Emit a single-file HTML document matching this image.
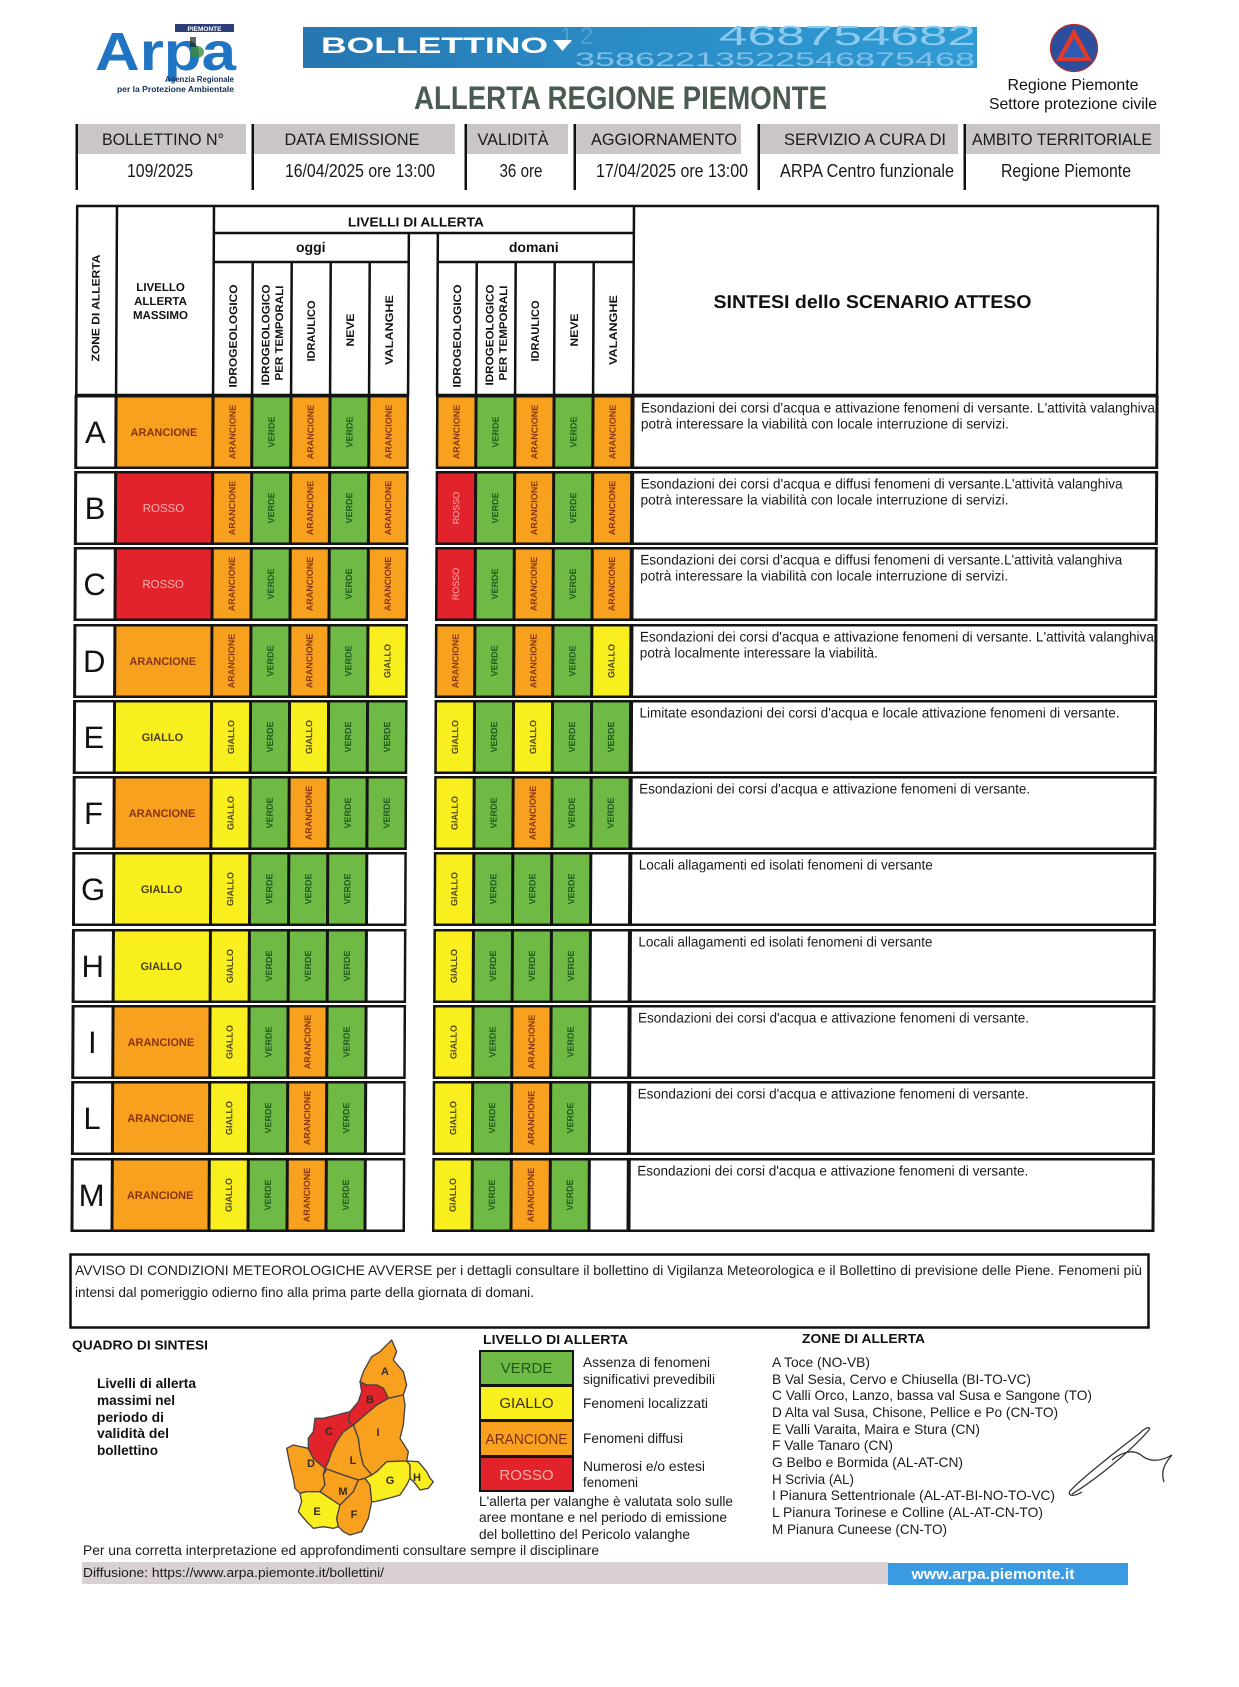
<!DOCTYPE html>
<html><head><meta charset="utf-8">
<style>
html,body{margin:0;padding:0;background:#fff;}
svg{display:block;}
text{font-family:"Liberation Sans",Arial,sans-serif;}
.hl{font-size:17px;fill:#1a1a1a;text-anchor:middle;}
.hv{font-size:18px;fill:#1a1a1a;text-anchor:middle;}
.hb{font-weight:bold;fill:#111;}
.z{font-size:31px;fill:#111;text-anchor:middle;}
.lo{font-weight:bold;font-size:11px;fill:#8a3414;text-anchor:middle;}
.ly{font-weight:bold;font-size:11px;fill:#4a4214;text-anchor:middle;}
.lr{font-size:11.5px;fill:#f7b0ae;text-anchor:middle;}
.v{font-weight:bold;font-size:9px;text-anchor:middle;}
.vo{fill:#8a3414;}.vg{fill:#1e5a1e;}.vy{fill:#4f4812;}
.vr{font-weight:normal;fill:#f7b0ae;}
.s{font-size:14px;fill:#1b1b1b;}
.b13{font-weight:bold;font-size:13px;fill:#111;}
.t14{font-size:14px;fill:#1b1b1b;}
</style></head>
<body>
<svg width="1239" height="1687" viewBox="0 0 1239 1687" xmlns="http://www.w3.org/2000/svg">
<defs>
<linearGradient id="bg" x1="0" x2="1" y1="0" y2="0">
<stop offset="0" stop-color="#2676b0"/><stop offset="0.45" stop-color="#2a8bc5"/><stop offset="1" stop-color="#309bd4"/>
</linearGradient>
</defs>

<!-- ARPA logo -->
<rect x="175" y="24" width="59" height="8" fill="#2c3f78"/>
<text x="204.5" y="31" font-size="6.5" font-weight="bold" fill="#fff" text-anchor="middle">PIEMONTE</text>
<text x="95" y="70" font-size="54" font-weight="bold" fill="#1f74c4" textLength="141" lengthAdjust="spacingAndGlyphs">Arpa</text>
<ellipse cx="197" cy="52" rx="7" ry="6" fill="#3d8b3a" opacity="0.8"/>
<rect x="190" y="37" width="6" height="10" fill="#1a2a1a" opacity="0.7"/>
<text x="234" y="82" font-size="8" font-weight="bold" fill="#14305a" text-anchor="end" textLength="69" lengthAdjust="spacingAndGlyphs">Agenzia Regionale</text>
<text x="234" y="92" font-size="8" font-weight="bold" fill="#14305a" text-anchor="end" textLength="117" lengthAdjust="spacingAndGlyphs">per la Protezione Ambientale</text>

<!-- Banner -->
<rect x="303" y="27" width="674" height="41" fill="url(#bg)"/>
<text x="560" y="44" font-size="24" fill="#5aa6d8" opacity="0.8">1  2</text>
<text x="719" y="45" font-size="28" fill="#8ccbee" textLength="257" lengthAdjust="spacingAndGlyphs">468754682</text>
<text x="575" y="66" font-size="19" fill="#7fc0e8" textLength="400" lengthAdjust="spacingAndGlyphs">35862213522546875468</text>
<text x="321" y="53" font-size="22" font-weight="bold" fill="#fff" textLength="227" lengthAdjust="spacingAndGlyphs">BOLLETTINO</text>
<polygon points="553,40 572,40 562.5,51" fill="#fff"/>

<text x="414" y="109" font-size="32" font-weight="bold" fill="#4b5b50" textLength="413" lengthAdjust="spacingAndGlyphs">ALLERTA REGIONE PIEMONTE</text>

<!-- Protezione civile logo -->
<circle cx="1074" cy="48" r="23.5" fill="#2b4f9e" stroke="#b5302a" stroke-width="1.2"/>
<polygon points="1074,28 1056,61 1092,61" fill="#e0392a"/>
<polygon points="1074,38 1063,57 1085,57" fill="#2c5bb5"/>
<text x="1073" y="90" font-size="16" fill="#111" text-anchor="middle" textLength="131" lengthAdjust="spacingAndGlyphs">Regione Piemonte</text>
<text x="1073" y="109" font-size="16" fill="#111" text-anchor="middle" textLength="168" lengthAdjust="spacingAndGlyphs">Settore protezione civile</text>

<!-- Header info table -->
<g fill="#cac5c7">
<rect x="78" y="124" width="168" height="30"/>
<rect x="254" y="124" width="201" height="30"/>
<rect x="467" y="124" width="101" height="30"/>
<rect x="576" y="124" width="165" height="30"/>
<rect x="760" y="124" width="198" height="30"/>
<rect x="966" y="124" width="194" height="30"/>
</g>
<g fill="#111">
<rect x="75.5" y="124" width="2.5" height="66"/>
<rect x="251.5" y="124" width="2.5" height="66"/>
<rect x="464.5" y="124" width="2.5" height="66"/>
<rect x="573.5" y="124" width="2.5" height="66"/>
<rect x="757.5" y="124" width="2.5" height="66"/>
<rect x="963.5" y="124" width="2.5" height="66"/>
</g>
<text class="hl" x="163" y="145" textLength="122" lengthAdjust="spacingAndGlyphs">BOLLETTINO N°</text>
<text class="hl" x="352" y="145" textLength="135" lengthAdjust="spacingAndGlyphs">DATA EMISSIONE</text>
<text class="hl" x="513" y="145" textLength="71" lengthAdjust="spacingAndGlyphs">VALIDITÀ</text>
<text class="hl" x="664" y="145" textLength="146" lengthAdjust="spacingAndGlyphs">AGGIORNAMENTO</text>
<text class="hl" x="865" y="145" textLength="162" lengthAdjust="spacingAndGlyphs">SERVIZIO A CURA DI</text>
<text class="hl" x="1062" y="145" textLength="180" lengthAdjust="spacingAndGlyphs">AMBITO TERRITORIALE</text>
<text class="hv" x="160" y="177" textLength="66" lengthAdjust="spacingAndGlyphs">109/2025</text>
<text class="hv" x="360" y="177" textLength="150" lengthAdjust="spacingAndGlyphs">16/04/2025 ore 13:00</text>
<text class="hv" x="521" y="177" textLength="43" lengthAdjust="spacingAndGlyphs">36 ore</text>
<text class="hv" x="672" y="177" textLength="152" lengthAdjust="spacingAndGlyphs">17/04/2025 ore 13:00</text>
<text class="hv" x="867" y="177" textLength="174" lengthAdjust="spacingAndGlyphs">ARPA Centro funzionale</text>
<text class="hv" x="1066" y="177" textLength="130" lengthAdjust="spacingAndGlyphs">Regione Piemonte</text>

<!-- MAIN TABLE -->
<g transform="translate(1,0) skewX(-0.28)">
<path d="M76 206 H1159 M77.2 206 V396 M117 206 V396 M214 206 V396 M214 233 H634 M409 233 V396 M438 233 V396 M214 262 H409 M438 262 H634 M253 262 V396 M292 262 V396 M331 262 V396 M370 262 V396 M477 262 V396 M516 262 V396 M555 262 V396 M594 262 V396 M634 206 V396 M1158 206 V396 M76 395 H409 M438 395 H1159" stroke="#111" stroke-width="2.5" fill="none"/>
<text class="hb" font-size="11" text-anchor="middle" transform="translate(96,308) rotate(-90)" dy="4" textLength="107" lengthAdjust="spacingAndGlyphs">ZONE DI ALLERTA</text>
<text class="hb" font-size="11.5" text-anchor="middle" x="161" y="291">LIVELLO</text>
<text class="hb" font-size="11.5" text-anchor="middle" x="161" y="305">ALLERTA</text>
<text class="hb" font-size="11.5" text-anchor="middle" x="161" y="319">MASSIMO</text>
<text class="hb" font-size="13" text-anchor="middle" x="416" y="226.5" textLength="136" lengthAdjust="spacingAndGlyphs">LIVELLI DI ALLERTA</text>
<text class="hb" font-size="14" text-anchor="middle" x="311" y="252">oggi</text>
<text class="hb" font-size="14" text-anchor="middle" x="534" y="252">domani</text>
<g class="hb" font-size="11" text-anchor="middle">
<text transform="translate(233.5,336) rotate(-90)" dy="4" textLength="103" lengthAdjust="spacingAndGlyphs">IDROGEOLOGICO</text>
<text transform="translate(266,335) rotate(-90)" dy="4" textLength="101" lengthAdjust="spacingAndGlyphs">IDROGEOLOGICO</text>
<text transform="translate(279.5,333) rotate(-90)" dy="4" textLength="95" lengthAdjust="spacingAndGlyphs">PER TEMPORALI</text>
<text transform="translate(311.5,331) rotate(-90)" dy="4" textLength="61" lengthAdjust="spacingAndGlyphs">IDRAULICO</text>
<text transform="translate(350.5,330) rotate(-90)" dy="4" textLength="33" lengthAdjust="spacingAndGlyphs">NEVE</text>
<text transform="translate(389.5,330) rotate(-90)" dy="4" textLength="70" lengthAdjust="spacingAndGlyphs">VALANGHE</text>
<text transform="translate(457.5,336) rotate(-90)" dy="4" textLength="103" lengthAdjust="spacingAndGlyphs">IDROGEOLOGICO</text>
<text transform="translate(490,335) rotate(-90)" dy="4" textLength="101" lengthAdjust="spacingAndGlyphs">IDROGEOLOGICO</text>
<text transform="translate(503.5,333) rotate(-90)" dy="4" textLength="95" lengthAdjust="spacingAndGlyphs">PER TEMPORALI</text>
<text transform="translate(535.5,331) rotate(-90)" dy="4" textLength="61" lengthAdjust="spacingAndGlyphs">IDRAULICO</text>
<text transform="translate(574.5,330) rotate(-90)" dy="4" textLength="33" lengthAdjust="spacingAndGlyphs">NEVE</text>
<text transform="translate(613.5,330) rotate(-90)" dy="4" textLength="70" lengthAdjust="spacingAndGlyphs">VALANGHE</text>
</g>
<text class="hb" font-size="18.5" x="714" y="308" textLength="318" lengthAdjust="spacingAndGlyphs">SINTESI dello SCENARIO ATTESO</text>

<!-- Row A -->
<g transform="translate(0,395)">
<rect x="75.5" y="0" width="334.5" height="74" fill="#141414"/><rect x="437" y="0" width="722.5" height="74" fill="#141414"/>
<rect x="78.5" y="2.5" width="37" height="69" fill="#fff"/><text class="z" x="96.5" y="48">A</text>
<rect x="118.5" y="2.5" width="94" height="69" fill="#f7a11f"/><text class="lo" x="165" y="41">ARANCIONE</text>
<rect x="215.5" y="2.5" width="36" height="69" fill="#f7a11f"/><text class="v vo" transform="translate(233.5,37) rotate(-90)" dy="3.2">ARANCIONE</text>
<rect x="254.5" y="2.5" width="36" height="69" fill="#6eba45"/><text class="v vg" transform="translate(272.5,37) rotate(-90)" dy="3.2">VERDE</text>
<rect x="293.5" y="2.5" width="36" height="69" fill="#f7a11f"/><text class="v vo" transform="translate(311.5,37) rotate(-90)" dy="3.2">ARANCIONE</text>
<rect x="332.5" y="2.5" width="36" height="69" fill="#6eba45"/><text class="v vg" transform="translate(350.5,37) rotate(-90)" dy="3.2">VERDE</text>
<rect x="371.5" y="2.5" width="36" height="69" fill="#f7a11f"/><text class="v vo" transform="translate(389.5,37) rotate(-90)" dy="3.2">ARANCIONE</text>
<rect x="439.5" y="2.5" width="36" height="69" fill="#f7a11f"/><text class="v vo" transform="translate(457.5,37) rotate(-90)" dy="3.2">ARANCIONE</text>
<rect x="478.5" y="2.5" width="36" height="69" fill="#6eba45"/><text class="v vg" transform="translate(496.5,37) rotate(-90)" dy="3.2">VERDE</text>
<rect x="517.5" y="2.5" width="36" height="69" fill="#f7a11f"/><text class="v vo" transform="translate(535.5,37) rotate(-90)" dy="3.2">ARANCIONE</text>
<rect x="556.5" y="2.5" width="36" height="69" fill="#6eba45"/><text class="v vg" transform="translate(574.5,37) rotate(-90)" dy="3.2">VERDE</text>
<rect x="595.5" y="2.5" width="36" height="69" fill="#f7a11f"/><text class="v vo" transform="translate(613.5,37) rotate(-90)" dy="3.2">ARANCIONE</text>
<rect x="635.5" y="2.5" width="521" height="69" fill="#fff"/>
<text class="s" x="642" y="17.5" textLength="514" lengthAdjust="spacingAndGlyphs">Esondazioni dei corsi d'acqua e attivazione fenomeni di versante. L'attività valanghiva</text>
<text class="s" x="642" y="33.5" textLength="368" lengthAdjust="spacingAndGlyphs">potrà interessare la viabilità con locale interruzione di servizi.</text>
</g>

<!-- Row B -->
<g transform="translate(0,471)">
<rect x="75.5" y="0" width="334.5" height="74" fill="#141414"/><rect x="437" y="0" width="722.5" height="74" fill="#141414"/>
<rect x="78.5" y="2.5" width="37" height="69" fill="#fff"/><text class="z" x="96.5" y="48">B</text>
<rect x="118.5" y="2.5" width="94" height="69" fill="#e3232b"/><text class="lr" x="165" y="41">ROSSO</text>
<rect x="215.5" y="2.5" width="36" height="69" fill="#f7a11f"/><text class="v vo" transform="translate(233.5,37) rotate(-90)" dy="3.2">ARANCIONE</text>
<rect x="254.5" y="2.5" width="36" height="69" fill="#6eba45"/><text class="v vg" transform="translate(272.5,37) rotate(-90)" dy="3.2">VERDE</text>
<rect x="293.5" y="2.5" width="36" height="69" fill="#f7a11f"/><text class="v vo" transform="translate(311.5,37) rotate(-90)" dy="3.2">ARANCIONE</text>
<rect x="332.5" y="2.5" width="36" height="69" fill="#6eba45"/><text class="v vg" transform="translate(350.5,37) rotate(-90)" dy="3.2">VERDE</text>
<rect x="371.5" y="2.5" width="36" height="69" fill="#f7a11f"/><text class="v vo" transform="translate(389.5,37) rotate(-90)" dy="3.2">ARANCIONE</text>
<rect x="439.5" y="2.5" width="36" height="69" fill="#e3232b"/><text class="v vr" transform="translate(457.5,37) rotate(-90)" dy="3.2">ROSSO</text>
<rect x="478.5" y="2.5" width="36" height="69" fill="#6eba45"/><text class="v vg" transform="translate(496.5,37) rotate(-90)" dy="3.2">VERDE</text>
<rect x="517.5" y="2.5" width="36" height="69" fill="#f7a11f"/><text class="v vo" transform="translate(535.5,37) rotate(-90)" dy="3.2">ARANCIONE</text>
<rect x="556.5" y="2.5" width="36" height="69" fill="#6eba45"/><text class="v vg" transform="translate(574.5,37) rotate(-90)" dy="3.2">VERDE</text>
<rect x="595.5" y="2.5" width="36" height="69" fill="#f7a11f"/><text class="v vo" transform="translate(613.5,37) rotate(-90)" dy="3.2">ARANCIONE</text>
<rect x="635.5" y="2.5" width="521" height="69" fill="#fff"/>
<text class="s" x="642" y="17.5" textLength="482" lengthAdjust="spacingAndGlyphs">Esondazioni dei corsi d'acqua e diffusi fenomeni di versante.L'attività valanghiva</text>
<text class="s" x="642" y="33.5" textLength="368" lengthAdjust="spacingAndGlyphs">potrà interessare la viabilità con locale interruzione di servizi.</text>
</g>

<!-- Row C -->
<g transform="translate(0,547)">
<rect x="75.5" y="0" width="334.5" height="74" fill="#141414"/><rect x="437" y="0" width="722.5" height="74" fill="#141414"/>
<rect x="78.5" y="2.5" width="37" height="69" fill="#fff"/><text class="z" x="96.5" y="48">C</text>
<rect x="118.5" y="2.5" width="94" height="69" fill="#e3232b"/><text class="lr" x="165" y="41">ROSSO</text>
<rect x="215.5" y="2.5" width="36" height="69" fill="#f7a11f"/><text class="v vo" transform="translate(233.5,37) rotate(-90)" dy="3.2">ARANCIONE</text>
<rect x="254.5" y="2.5" width="36" height="69" fill="#6eba45"/><text class="v vg" transform="translate(272.5,37) rotate(-90)" dy="3.2">VERDE</text>
<rect x="293.5" y="2.5" width="36" height="69" fill="#f7a11f"/><text class="v vo" transform="translate(311.5,37) rotate(-90)" dy="3.2">ARANCIONE</text>
<rect x="332.5" y="2.5" width="36" height="69" fill="#6eba45"/><text class="v vg" transform="translate(350.5,37) rotate(-90)" dy="3.2">VERDE</text>
<rect x="371.5" y="2.5" width="36" height="69" fill="#f7a11f"/><text class="v vo" transform="translate(389.5,37) rotate(-90)" dy="3.2">ARANCIONE</text>
<rect x="439.5" y="2.5" width="36" height="69" fill="#e3232b"/><text class="v vr" transform="translate(457.5,37) rotate(-90)" dy="3.2">ROSSO</text>
<rect x="478.5" y="2.5" width="36" height="69" fill="#6eba45"/><text class="v vg" transform="translate(496.5,37) rotate(-90)" dy="3.2">VERDE</text>
<rect x="517.5" y="2.5" width="36" height="69" fill="#f7a11f"/><text class="v vo" transform="translate(535.5,37) rotate(-90)" dy="3.2">ARANCIONE</text>
<rect x="556.5" y="2.5" width="36" height="69" fill="#6eba45"/><text class="v vg" transform="translate(574.5,37) rotate(-90)" dy="3.2">VERDE</text>
<rect x="595.5" y="2.5" width="36" height="69" fill="#f7a11f"/><text class="v vo" transform="translate(613.5,37) rotate(-90)" dy="3.2">ARANCIONE</text>
<rect x="635.5" y="2.5" width="521" height="69" fill="#fff"/>
<text class="s" x="642" y="17.5" textLength="482" lengthAdjust="spacingAndGlyphs">Esondazioni dei corsi d'acqua e diffusi fenomeni di versante.L'attività valanghiva</text>
<text class="s" x="642" y="33.5" textLength="368" lengthAdjust="spacingAndGlyphs">potrà interessare la viabilità con locale interruzione di servizi.</text>
</g>

<!-- Row D -->
<g transform="translate(0,624)">
<rect x="75.5" y="0" width="334.5" height="74" fill="#141414"/><rect x="437" y="0" width="722.5" height="74" fill="#141414"/>
<rect x="78.5" y="2.5" width="37" height="69" fill="#fff"/><text class="z" x="96.5" y="48">D</text>
<rect x="118.5" y="2.5" width="94" height="69" fill="#f7a11f"/><text class="lo" x="165" y="41">ARANCIONE</text>
<rect x="215.5" y="2.5" width="36" height="69" fill="#f7a11f"/><text class="v vo" transform="translate(233.5,37) rotate(-90)" dy="3.2">ARANCIONE</text>
<rect x="254.5" y="2.5" width="36" height="69" fill="#6eba45"/><text class="v vg" transform="translate(272.5,37) rotate(-90)" dy="3.2">VERDE</text>
<rect x="293.5" y="2.5" width="36" height="69" fill="#f7a11f"/><text class="v vo" transform="translate(311.5,37) rotate(-90)" dy="3.2">ARANCIONE</text>
<rect x="332.5" y="2.5" width="36" height="69" fill="#6eba45"/><text class="v vg" transform="translate(350.5,37) rotate(-90)" dy="3.2">VERDE</text>
<rect x="371.5" y="2.5" width="36" height="69" fill="#f9ef1f"/><text class="v vy" transform="translate(389.5,37) rotate(-90)" dy="3.2">GIALLO</text>
<rect x="439.5" y="2.5" width="36" height="69" fill="#f7a11f"/><text class="v vo" transform="translate(457.5,37) rotate(-90)" dy="3.2">ARANCIONE</text>
<rect x="478.5" y="2.5" width="36" height="69" fill="#6eba45"/><text class="v vg" transform="translate(496.5,37) rotate(-90)" dy="3.2">VERDE</text>
<rect x="517.5" y="2.5" width="36" height="69" fill="#f7a11f"/><text class="v vo" transform="translate(535.5,37) rotate(-90)" dy="3.2">ARANCIONE</text>
<rect x="556.5" y="2.5" width="36" height="69" fill="#6eba45"/><text class="v vg" transform="translate(574.5,37) rotate(-90)" dy="3.2">VERDE</text>
<rect x="595.5" y="2.5" width="36" height="69" fill="#f9ef1f"/><text class="v vy" transform="translate(613.5,37) rotate(-90)" dy="3.2">GIALLO</text>
<rect x="635.5" y="2.5" width="521" height="69" fill="#fff"/>
<text class="s" x="642" y="17.5" textLength="514" lengthAdjust="spacingAndGlyphs">Esondazioni dei corsi d'acqua e attivazione fenomeni di versante. L'attività valanghiva</text>
<text class="s" x="642" y="33.5" textLength="238" lengthAdjust="spacingAndGlyphs">potrà localmente interessare la viabilità.</text>
</g>

<!-- Row E -->
<g transform="translate(0,700)">
<rect x="75.5" y="0" width="334.5" height="74" fill="#141414"/><rect x="437" y="0" width="722.5" height="74" fill="#141414"/>
<rect x="78.5" y="2.5" width="37" height="69" fill="#fff"/><text class="z" x="96.5" y="48">E</text>
<rect x="118.5" y="2.5" width="94" height="69" fill="#f9ef1f"/><text class="ly" x="165" y="41">GIALLO</text>
<rect x="215.5" y="2.5" width="36" height="69" fill="#f9ef1f"/><text class="v vy" transform="translate(233.5,37) rotate(-90)" dy="3.2">GIALLO</text>
<rect x="254.5" y="2.5" width="36" height="69" fill="#6eba45"/><text class="v vg" transform="translate(272.5,37) rotate(-90)" dy="3.2">VERDE</text>
<rect x="293.5" y="2.5" width="36" height="69" fill="#f9ef1f"/><text class="v vy" transform="translate(311.5,37) rotate(-90)" dy="3.2">GIALLO</text>
<rect x="332.5" y="2.5" width="36" height="69" fill="#6eba45"/><text class="v vg" transform="translate(350.5,37) rotate(-90)" dy="3.2">VERDE</text>
<rect x="371.5" y="2.5" width="36" height="69" fill="#6eba45"/><text class="v vg" transform="translate(389.5,37) rotate(-90)" dy="3.2">VERDE</text>
<rect x="439.5" y="2.5" width="36" height="69" fill="#f9ef1f"/><text class="v vy" transform="translate(457.5,37) rotate(-90)" dy="3.2">GIALLO</text>
<rect x="478.5" y="2.5" width="36" height="69" fill="#6eba45"/><text class="v vg" transform="translate(496.5,37) rotate(-90)" dy="3.2">VERDE</text>
<rect x="517.5" y="2.5" width="36" height="69" fill="#f9ef1f"/><text class="v vy" transform="translate(535.5,37) rotate(-90)" dy="3.2">GIALLO</text>
<rect x="556.5" y="2.5" width="36" height="69" fill="#6eba45"/><text class="v vg" transform="translate(574.5,37) rotate(-90)" dy="3.2">VERDE</text>
<rect x="595.5" y="2.5" width="36" height="69" fill="#6eba45"/><text class="v vg" transform="translate(613.5,37) rotate(-90)" dy="3.2">VERDE</text>
<rect x="635.5" y="2.5" width="521" height="69" fill="#fff"/>
<text class="s" x="642" y="17.5" textLength="480" lengthAdjust="spacingAndGlyphs">Limitate esondazioni dei corsi d'acqua e locale attivazione fenomeni di versante.</text>
</g>

<!-- Row F -->
<g transform="translate(0,776)">
<rect x="75.5" y="0" width="334.5" height="74" fill="#141414"/><rect x="437" y="0" width="722.5" height="74" fill="#141414"/>
<rect x="78.5" y="2.5" width="37" height="69" fill="#fff"/><text class="z" x="96.5" y="48">F</text>
<rect x="118.5" y="2.5" width="94" height="69" fill="#f7a11f"/><text class="lo" x="165" y="41">ARANCIONE</text>
<rect x="215.5" y="2.5" width="36" height="69" fill="#f9ef1f"/><text class="v vy" transform="translate(233.5,37) rotate(-90)" dy="3.2">GIALLO</text>
<rect x="254.5" y="2.5" width="36" height="69" fill="#6eba45"/><text class="v vg" transform="translate(272.5,37) rotate(-90)" dy="3.2">VERDE</text>
<rect x="293.5" y="2.5" width="36" height="69" fill="#f7a11f"/><text class="v vo" transform="translate(311.5,37) rotate(-90)" dy="3.2">ARANCIONE</text>
<rect x="332.5" y="2.5" width="36" height="69" fill="#6eba45"/><text class="v vg" transform="translate(350.5,37) rotate(-90)" dy="3.2">VERDE</text>
<rect x="371.5" y="2.5" width="36" height="69" fill="#6eba45"/><text class="v vg" transform="translate(389.5,37) rotate(-90)" dy="3.2">VERDE</text>
<rect x="439.5" y="2.5" width="36" height="69" fill="#f9ef1f"/><text class="v vy" transform="translate(457.5,37) rotate(-90)" dy="3.2">GIALLO</text>
<rect x="478.5" y="2.5" width="36" height="69" fill="#6eba45"/><text class="v vg" transform="translate(496.5,37) rotate(-90)" dy="3.2">VERDE</text>
<rect x="517.5" y="2.5" width="36" height="69" fill="#f7a11f"/><text class="v vo" transform="translate(535.5,37) rotate(-90)" dy="3.2">ARANCIONE</text>
<rect x="556.5" y="2.5" width="36" height="69" fill="#6eba45"/><text class="v vg" transform="translate(574.5,37) rotate(-90)" dy="3.2">VERDE</text>
<rect x="595.5" y="2.5" width="36" height="69" fill="#6eba45"/><text class="v vg" transform="translate(613.5,37) rotate(-90)" dy="3.2">VERDE</text>
<rect x="635.5" y="2.5" width="521" height="69" fill="#fff"/>
<text class="s" x="642" y="17.5" textLength="391" lengthAdjust="spacingAndGlyphs">Esondazioni dei corsi d'acqua e attivazione fenomeni di versante.</text>
</g>

<!-- Row G -->
<g transform="translate(0,852)">
<rect x="75.5" y="0" width="334.5" height="74" fill="#141414"/><rect x="437" y="0" width="722.5" height="74" fill="#141414"/>
<rect x="78.5" y="2.5" width="37" height="69" fill="#fff"/><text class="z" x="96.5" y="48">G</text>
<rect x="118.5" y="2.5" width="94" height="69" fill="#f9ef1f"/><text class="ly" x="165" y="41">GIALLO</text>
<rect x="215.5" y="2.5" width="36" height="69" fill="#f9ef1f"/><text class="v vy" transform="translate(233.5,37) rotate(-90)" dy="3.2">GIALLO</text>
<rect x="254.5" y="2.5" width="36" height="69" fill="#6eba45"/><text class="v vg" transform="translate(272.5,37) rotate(-90)" dy="3.2">VERDE</text>
<rect x="293.5" y="2.5" width="36" height="69" fill="#6eba45"/><text class="v vg" transform="translate(311.5,37) rotate(-90)" dy="3.2">VERDE</text>
<rect x="332.5" y="2.5" width="36" height="69" fill="#6eba45"/><text class="v vg" transform="translate(350.5,37) rotate(-90)" dy="3.2">VERDE</text>
<rect x="371.5" y="2.5" width="36" height="69" fill="#fff"/>
<rect x="439.5" y="2.5" width="36" height="69" fill="#f9ef1f"/><text class="v vy" transform="translate(457.5,37) rotate(-90)" dy="3.2">GIALLO</text>
<rect x="478.5" y="2.5" width="36" height="69" fill="#6eba45"/><text class="v vg" transform="translate(496.5,37) rotate(-90)" dy="3.2">VERDE</text>
<rect x="517.5" y="2.5" width="36" height="69" fill="#6eba45"/><text class="v vg" transform="translate(535.5,37) rotate(-90)" dy="3.2">VERDE</text>
<rect x="556.5" y="2.5" width="36" height="69" fill="#6eba45"/><text class="v vg" transform="translate(574.5,37) rotate(-90)" dy="3.2">VERDE</text>
<rect x="595.5" y="2.5" width="36" height="69" fill="#fff"/>
<rect x="635.5" y="2.5" width="521" height="69" fill="#fff"/>
<text class="s" x="642" y="17.5" textLength="294" lengthAdjust="spacingAndGlyphs">Locali allagamenti ed isolati fenomeni di versante</text>
</g>

<!-- Row H -->
<g transform="translate(0,929)">
<rect x="75.5" y="0" width="334.5" height="74" fill="#141414"/><rect x="437" y="0" width="722.5" height="74" fill="#141414"/>
<rect x="78.5" y="2.5" width="37" height="69" fill="#fff"/><text class="z" x="96.5" y="48">H</text>
<rect x="118.5" y="2.5" width="94" height="69" fill="#f9ef1f"/><text class="ly" x="165" y="41">GIALLO</text>
<rect x="215.5" y="2.5" width="36" height="69" fill="#f9ef1f"/><text class="v vy" transform="translate(233.5,37) rotate(-90)" dy="3.2">GIALLO</text>
<rect x="254.5" y="2.5" width="36" height="69" fill="#6eba45"/><text class="v vg" transform="translate(272.5,37) rotate(-90)" dy="3.2">VERDE</text>
<rect x="293.5" y="2.5" width="36" height="69" fill="#6eba45"/><text class="v vg" transform="translate(311.5,37) rotate(-90)" dy="3.2">VERDE</text>
<rect x="332.5" y="2.5" width="36" height="69" fill="#6eba45"/><text class="v vg" transform="translate(350.5,37) rotate(-90)" dy="3.2">VERDE</text>
<rect x="371.5" y="2.5" width="36" height="69" fill="#fff"/>
<rect x="439.5" y="2.5" width="36" height="69" fill="#f9ef1f"/><text class="v vy" transform="translate(457.5,37) rotate(-90)" dy="3.2">GIALLO</text>
<rect x="478.5" y="2.5" width="36" height="69" fill="#6eba45"/><text class="v vg" transform="translate(496.5,37) rotate(-90)" dy="3.2">VERDE</text>
<rect x="517.5" y="2.5" width="36" height="69" fill="#6eba45"/><text class="v vg" transform="translate(535.5,37) rotate(-90)" dy="3.2">VERDE</text>
<rect x="556.5" y="2.5" width="36" height="69" fill="#6eba45"/><text class="v vg" transform="translate(574.5,37) rotate(-90)" dy="3.2">VERDE</text>
<rect x="595.5" y="2.5" width="36" height="69" fill="#fff"/>
<rect x="635.5" y="2.5" width="521" height="69" fill="#fff"/>
<text class="s" x="642" y="17.5" textLength="294" lengthAdjust="spacingAndGlyphs">Locali allagamenti ed isolati fenomeni di versante</text>
</g>

<!-- Row I -->
<g transform="translate(0,1005)">
<rect x="75.5" y="0" width="334.5" height="74" fill="#141414"/><rect x="437" y="0" width="722.5" height="74" fill="#141414"/>
<rect x="78.5" y="2.5" width="37" height="69" fill="#fff"/><text class="z" x="96.5" y="48">I</text>
<rect x="118.5" y="2.5" width="94" height="69" fill="#f7a11f"/><text class="lo" x="165" y="41">ARANCIONE</text>
<rect x="215.5" y="2.5" width="36" height="69" fill="#f9ef1f"/><text class="v vy" transform="translate(233.5,37) rotate(-90)" dy="3.2">GIALLO</text>
<rect x="254.5" y="2.5" width="36" height="69" fill="#6eba45"/><text class="v vg" transform="translate(272.5,37) rotate(-90)" dy="3.2">VERDE</text>
<rect x="293.5" y="2.5" width="36" height="69" fill="#f7a11f"/><text class="v vo" transform="translate(311.5,37) rotate(-90)" dy="3.2">ARANCIONE</text>
<rect x="332.5" y="2.5" width="36" height="69" fill="#6eba45"/><text class="v vg" transform="translate(350.5,37) rotate(-90)" dy="3.2">VERDE</text>
<rect x="371.5" y="2.5" width="36" height="69" fill="#fff"/>
<rect x="439.5" y="2.5" width="36" height="69" fill="#f9ef1f"/><text class="v vy" transform="translate(457.5,37) rotate(-90)" dy="3.2">GIALLO</text>
<rect x="478.5" y="2.5" width="36" height="69" fill="#6eba45"/><text class="v vg" transform="translate(496.5,37) rotate(-90)" dy="3.2">VERDE</text>
<rect x="517.5" y="2.5" width="36" height="69" fill="#f7a11f"/><text class="v vo" transform="translate(535.5,37) rotate(-90)" dy="3.2">ARANCIONE</text>
<rect x="556.5" y="2.5" width="36" height="69" fill="#6eba45"/><text class="v vg" transform="translate(574.5,37) rotate(-90)" dy="3.2">VERDE</text>
<rect x="595.5" y="2.5" width="36" height="69" fill="#fff"/>
<rect x="635.5" y="2.5" width="521" height="69" fill="#fff"/>
<text class="s" x="642" y="17.5" textLength="391" lengthAdjust="spacingAndGlyphs">Esondazioni dei corsi d'acqua e attivazione fenomeni di versante.</text>
</g>

<!-- Row L -->
<g transform="translate(0,1081)">
<rect x="75.5" y="0" width="334.5" height="74" fill="#141414"/><rect x="437" y="0" width="722.5" height="74" fill="#141414"/>
<rect x="78.5" y="2.5" width="37" height="69" fill="#fff"/><text class="z" x="96.5" y="48">L</text>
<rect x="118.5" y="2.5" width="94" height="69" fill="#f7a11f"/><text class="lo" x="165" y="41">ARANCIONE</text>
<rect x="215.5" y="2.5" width="36" height="69" fill="#f9ef1f"/><text class="v vy" transform="translate(233.5,37) rotate(-90)" dy="3.2">GIALLO</text>
<rect x="254.5" y="2.5" width="36" height="69" fill="#6eba45"/><text class="v vg" transform="translate(272.5,37) rotate(-90)" dy="3.2">VERDE</text>
<rect x="293.5" y="2.5" width="36" height="69" fill="#f7a11f"/><text class="v vo" transform="translate(311.5,37) rotate(-90)" dy="3.2">ARANCIONE</text>
<rect x="332.5" y="2.5" width="36" height="69" fill="#6eba45"/><text class="v vg" transform="translate(350.5,37) rotate(-90)" dy="3.2">VERDE</text>
<rect x="371.5" y="2.5" width="36" height="69" fill="#fff"/>
<rect x="439.5" y="2.5" width="36" height="69" fill="#f9ef1f"/><text class="v vy" transform="translate(457.5,37) rotate(-90)" dy="3.2">GIALLO</text>
<rect x="478.5" y="2.5" width="36" height="69" fill="#6eba45"/><text class="v vg" transform="translate(496.5,37) rotate(-90)" dy="3.2">VERDE</text>
<rect x="517.5" y="2.5" width="36" height="69" fill="#f7a11f"/><text class="v vo" transform="translate(535.5,37) rotate(-90)" dy="3.2">ARANCIONE</text>
<rect x="556.5" y="2.5" width="36" height="69" fill="#6eba45"/><text class="v vg" transform="translate(574.5,37) rotate(-90)" dy="3.2">VERDE</text>
<rect x="595.5" y="2.5" width="36" height="69" fill="#fff"/>
<rect x="635.5" y="2.5" width="521" height="69" fill="#fff"/>
<text class="s" x="642" y="17.5" textLength="391" lengthAdjust="spacingAndGlyphs">Esondazioni dei corsi d'acqua e attivazione fenomeni di versante.</text>
</g>

<!-- Row M -->
<g transform="translate(0,1158)">
<rect x="75.5" y="0" width="334.5" height="74" fill="#141414"/><rect x="437" y="0" width="722.5" height="74" fill="#141414"/>
<rect x="78.5" y="2.5" width="37" height="69" fill="#fff"/><text class="z" x="96.5" y="48">M</text>
<rect x="118.5" y="2.5" width="94" height="69" fill="#f7a11f"/><text class="lo" x="165" y="41">ARANCIONE</text>
<rect x="215.5" y="2.5" width="36" height="69" fill="#f9ef1f"/><text class="v vy" transform="translate(233.5,37) rotate(-90)" dy="3.2">GIALLO</text>
<rect x="254.5" y="2.5" width="36" height="69" fill="#6eba45"/><text class="v vg" transform="translate(272.5,37) rotate(-90)" dy="3.2">VERDE</text>
<rect x="293.5" y="2.5" width="36" height="69" fill="#f7a11f"/><text class="v vo" transform="translate(311.5,37) rotate(-90)" dy="3.2">ARANCIONE</text>
<rect x="332.5" y="2.5" width="36" height="69" fill="#6eba45"/><text class="v vg" transform="translate(350.5,37) rotate(-90)" dy="3.2">VERDE</text>
<rect x="371.5" y="2.5" width="36" height="69" fill="#fff"/>
<rect x="439.5" y="2.5" width="36" height="69" fill="#f9ef1f"/><text class="v vy" transform="translate(457.5,37) rotate(-90)" dy="3.2">GIALLO</text>
<rect x="478.5" y="2.5" width="36" height="69" fill="#6eba45"/><text class="v vg" transform="translate(496.5,37) rotate(-90)" dy="3.2">VERDE</text>
<rect x="517.5" y="2.5" width="36" height="69" fill="#f7a11f"/><text class="v vo" transform="translate(535.5,37) rotate(-90)" dy="3.2">ARANCIONE</text>
<rect x="556.5" y="2.5" width="36" height="69" fill="#6eba45"/><text class="v vg" transform="translate(574.5,37) rotate(-90)" dy="3.2">VERDE</text>
<rect x="595.5" y="2.5" width="36" height="69" fill="#fff"/>
<rect x="635.5" y="2.5" width="521" height="69" fill="#fff"/>
<text class="s" x="642" y="17.5" textLength="391" lengthAdjust="spacingAndGlyphs">Esondazioni dei corsi d'acqua e attivazione fenomeni di versante.</text>
</g>
</g>

<!-- AVVISO box -->
<rect x="70.5" y="1254.5" width="1078" height="73" fill="none" stroke="#111" stroke-width="2.5"/>
<text class="t14" x="75" y="1275" textLength="1067" lengthAdjust="spacingAndGlyphs">AVVISO DI CONDIZIONI METEOROLOGICHE AVVERSE per i dettagli consultare il bollettino di Vigilanza Meteorologica e il Bollettino di previsione delle Piene. Fenomeni più</text>
<text class="t14" x="75" y="1297" textLength="459" lengthAdjust="spacingAndGlyphs">intensi dal pomeriggio odierno fino alla prima parte della giornata di domani.</text>

<!-- Quadro di sintesi -->
<text class="b13" x="72" y="1349.5" textLength="136" lengthAdjust="spacingAndGlyphs">QUADRO DI SINTESI</text>
<g font-weight="bold" font-size="13.5" fill="#111">
<text x="97" y="1388" textLength="99" lengthAdjust="spacingAndGlyphs">Livelli di allerta</text>
<text x="97" y="1405" textLength="78" lengthAdjust="spacingAndGlyphs">massimi nel</text>
<text x="97" y="1422" textLength="67" lengthAdjust="spacingAndGlyphs">periodo di</text>
<text x="97" y="1438" textLength="72" lengthAdjust="spacingAndGlyphs">validità del</text>
<text x="97" y="1455" textLength="61" lengthAdjust="spacingAndGlyphs">bollettino</text>
</g>

<!-- Map -->
<g transform="translate(60,1245) scale(0.33333)" stroke="#4a4040" stroke-width="4" stroke-linejoin="round">
<polygon fill="#f7a11f" points="995,285 1010,320 1000,345 1030,380 1040,420 1030,450 985,460 970,430 950,420 920,420 900,410 910,380 935,335 960,320 975,305"/>
<polygon fill="#f7a11f" points="985,460 1030,450 1035,480 1030,540 1020,580 1045,620 1040,648 980,650 950,680 935,690 910,660 900,620 895,580 880,540 920,505 950,480"/>
<polygon fill="#f7a11f" points="880,540 895,580 900,620 910,660 935,690 915,700 895,705 850,690 800,672 795,670 805,650 815,620 830,590 850,560"/>
<polygon fill="#f7a11f" points="680,610 700,600 745,610 760,640 795,670 790,690 795,720 780,740 740,740 720,745 705,730 700,700 690,660"/>
<polygon fill="#f9ef1f" points="720,745 740,740 780,740 810,760 840,780 830,820 835,845 820,850 790,845 760,850 740,830 715,800 725,770"/>
<polygon fill="#f7a11f" points="790,690 800,672 850,690 895,705 880,740 860,760 840,780 810,760 780,740 795,720"/>
<polygon fill="#f7a11f" points="895,705 915,700 930,720 935,770 925,820 905,860 870,870 850,860 835,845 830,820 840,780 860,760 880,740"/>
<polygon fill="#f9ef1f" points="935,690 950,680 980,650 1040,648 1050,660 1050,700 1040,720 1020,750 985,760 945,770 935,770 930,720 915,700"/>
<polygon fill="#f9ef1f" points="1040,648 1075,650 1100,680 1110,700 1120,710 1105,730 1080,735 1065,715 1050,700 1050,660"/>
<polygon fill="#e3232b" points="900,410 920,420 950,420 970,430 985,460 950,480 920,505 880,540 865,530 870,500 895,470 905,440"/>
<polygon fill="#e3232b" points="765,520 790,520 830,510 870,500 865,530 880,540 850,560 830,590 815,620 805,650 795,670 760,640 745,610 745,580 760,560"/>
</g>
<g font-weight="bold" font-size="11" fill="#3a2a1a" text-anchor="middle">
<text x="385" y="1375">A</text><text x="370" y="1403">B</text><text x="329" y="1435">C</text>
<text x="378" y="1436">I</text><text x="311" y="1467">D</text><text x="353" y="1464">L</text>
<text x="390" y="1484">G</text><text x="417" y="1481">H</text><text x="343" y="1495">M</text>
<text x="317" y="1515">E</text><text x="354" y="1518">F</text>
</g>

<!-- Legend -->
<text class="b13" x="483" y="1344" textLength="145" lengthAdjust="spacingAndGlyphs">LIVELLO DI ALLERTA</text>
<rect x="479" y="1350" width="95" height="142" fill="#141414"/>
<rect x="481" y="1352" width="91" height="32" fill="#6eba45"/>
<rect x="481" y="1387" width="91" height="32" fill="#f9ef1f"/>
<rect x="481" y="1422" width="91" height="33" fill="#f7a11f"/>
<rect x="481" y="1458" width="91" height="32" fill="#e3232b"/>
<text x="526.5" y="1373" font-size="15" fill="#1e5a1a" text-anchor="middle">VERDE</text>
<text x="526.5" y="1408" font-size="15" fill="#3a3010" text-anchor="middle">GIALLO</text>
<text x="526.5" y="1444" font-size="15" fill="#7a2c0e" text-anchor="middle" textLength="82" lengthAdjust="spacingAndGlyphs">ARANCIONE</text>
<text x="526.5" y="1480" font-size="15" fill="#f7b0ae" text-anchor="middle">ROSSO</text>
<g class="t14">
<text x="583" y="1367" textLength="127" lengthAdjust="spacingAndGlyphs">Assenza di fenomeni</text>
<text x="583" y="1384" textLength="132" lengthAdjust="spacingAndGlyphs">significativi prevedibili</text>
<text x="583" y="1408" textLength="125" lengthAdjust="spacingAndGlyphs">Fenomeni localizzati</text>
<text x="583" y="1443" textLength="100" lengthAdjust="spacingAndGlyphs">Fenomeni diffusi</text>
<text x="583" y="1471" textLength="122" lengthAdjust="spacingAndGlyphs">Numerosi e/o estesi</text>
<text x="583" y="1487" textLength="55" lengthAdjust="spacingAndGlyphs">fenomeni</text>
<text x="479" y="1506" textLength="254" lengthAdjust="spacingAndGlyphs">L'allerta per valanghe è valutata solo sulle</text>
<text x="479" y="1522" textLength="248" lengthAdjust="spacingAndGlyphs">aree montane e nel periodo di emissione</text>
<text x="479" y="1539" textLength="211" lengthAdjust="spacingAndGlyphs">del bollettino del Pericolo valanghe</text>
</g>

<!-- Zone list -->
<text class="b13" x="802" y="1343" textLength="123" lengthAdjust="spacingAndGlyphs">ZONE DI ALLERTA</text>
<g class="t14">
<text x="772" y="1367" textLength="98" lengthAdjust="spacingAndGlyphs">A Toce (NO-VB)</text>
<text x="772" y="1384" textLength="259" lengthAdjust="spacingAndGlyphs">B Val Sesia, Cervo e Chiusella (BI-TO-VC)</text>
<text x="772" y="1400" textLength="320" lengthAdjust="spacingAndGlyphs">C Valli Orco, Lanzo, bassa val Susa e Sangone (TO)</text>
<text x="772" y="1417" textLength="286" lengthAdjust="spacingAndGlyphs">D Alta val Susa, Chisone, Pellice e Po (CN-TO)</text>
<text x="772" y="1434" textLength="208" lengthAdjust="spacingAndGlyphs">E Valli Varaita, Maira e Stura (CN)</text>
<text x="772" y="1450" textLength="121" lengthAdjust="spacingAndGlyphs">F Valle Tanaro (CN)</text>
<text x="772" y="1467" textLength="191" lengthAdjust="spacingAndGlyphs">G Belbo e Bormida (AL-AT-CN)</text>
<text x="772" y="1484" textLength="82" lengthAdjust="spacingAndGlyphs">H Scrivia (AL)</text>
<text x="772" y="1500" textLength="283" lengthAdjust="spacingAndGlyphs">I Pianura Settentrionale (AL-AT-BI-NO-TO-VC)</text>
<text x="772" y="1517" textLength="271" lengthAdjust="spacingAndGlyphs">L Pianura Torinese e Colline (AL-AT-CN-TO)</text>
<text x="772" y="1534" textLength="175" lengthAdjust="spacingAndGlyphs">M Pianura Cuneese (CN-TO)</text>
</g>

<!-- Signature -->
<path d="M1072,1494 C1095,1480 1130,1452 1149,1430 C1151,1426 1146,1427 1140,1433 C1110,1456 1082,1478 1070,1491 C1067,1496 1074,1497 1082,1492 M1112,1460 C1122,1452 1133,1449 1141,1455 C1149,1462 1160,1462 1172,1455 C1166,1462 1160,1470 1164,1482" fill="none" stroke="#333" stroke-width="1.3"/>

<!-- Footer -->
<text class="t14" x="83" y="1555" textLength="516" lengthAdjust="spacingAndGlyphs">Per una corretta interpretazione ed approfondimenti consultare sempre il disciplinare</text>
<rect x="82" y="1562" width="806" height="22" fill="#d9d0d4"/>
<text x="83" y="1577" font-size="13" fill="#1b1b1b" textLength="301" lengthAdjust="spacingAndGlyphs">Diffusione: https://www.arpa.piemonte.it/bollettini/</text>
<rect x="888" y="1563" width="240" height="22" fill="#3a9be0"/>
<text x="993" y="1579" font-size="15" font-weight="bold" fill="#fff" text-anchor="middle" textLength="163" lengthAdjust="spacingAndGlyphs">www.arpa.piemonte.it</text>
</svg>
</body></html>
